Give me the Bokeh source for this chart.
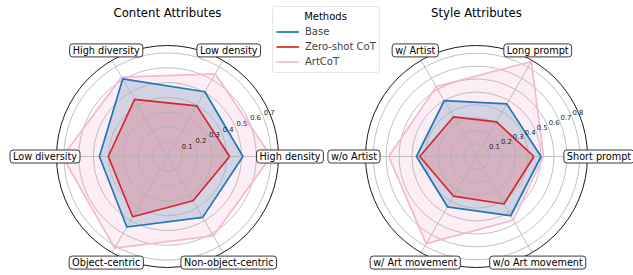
import numpy as np
from bokeh.plotting import figure
from bokeh.models import Range1d, Legend, LegendItem
from bokeh.models.glyphs import Text
from bokeh.core.properties import value
from bokeh.embed import file_html
from bokeh.resources import INLINE

# ---------------- data ----------------
methods = ["Base", "Zero-shot CoT", "ArtCoT"]
method_colors = ["#1f77b4", "#d62728", "#f7b6d2"]

content_categories = ["High density", "Low density", "High diversity",
                      "Low diversity", "Object-centric", "Non-object-centric"]
content_base = [0.51, 0.505, 0.605, 0.46, 0.55, 0.475]
content_zeroshot = [0.42, 0.395, 0.445, 0.40, 0.47, 0.345]
content_artcot = [0.70, 0.645, 0.62, 0.71, 0.715, 0.62]
content_ticks = [0.1, 0.2, 0.3, 0.4, 0.5, 0.6, 0.7]
content_rmax = 0.75

style_categories = ["Short prompt", "Long prompt", "w/ Artist",
                    "w/o Artist", "w/ Art movement", "w/o Art movement"]
style_base = [0.50, 0.47, 0.50, 0.465, 0.45, 0.53]
style_zeroshot = [0.445, 0.31, 0.355, 0.44, 0.355, 0.425]
style_artcot = [0.52, 0.85, 0.625, 0.68, 0.78, 0.57]
style_ticks = [0.1, 0.2, 0.3, 0.4, 0.5, 0.6, 0.7, 0.8]
style_rmax = 0.86

# ---------------- layout ----------------
W, H = 633, 275
R = 111.0          # outer radius in px
LABEL_R = 122.5    # category label radius in px
FONT = value("DejaVu Sans")

p = figure(width=W, height=H, output_backend="svg", toolbar_location=None,
           x_range=Range1d(0, W), y_range=Range1d(0, H),
           x_axis_type=None, y_axis_type=None, min_border=0)
p.grid.visible = False
p.outline_line_color = None
p.background_fill_color = "white"

has_box = "padding" in Text.properties()


def panel(cx, cy, rmax, cats, series, ticks, title):
    k = R / rmax
    n = len(cats)
    theta = np.arange(n) * 2 * np.pi / n
    # fills
    for vals, col in zip(series, method_colors):
        v = np.array(vals)
        p.patch(cx + v * k * np.cos(theta), cy + v * k * np.sin(theta),
                fill_color=col, fill_alpha=0.25, line_color=None)
    # grid
    for t in ticks:
        p.circle(x=[cx], y=[cy], radius=t * k, fill_color=None,
                 line_color="#b0b0b0", line_width=0.8)
    p.segment(x0=[cx] * n, y0=[cy] * n, x1=cx + R * np.cos(theta),
              y1=cy + R * np.sin(theta), line_color="#b0b0b0", line_width=0.8)
    p.circle(x=[cx], y=[cy], radius=R, fill_color=None,
             line_color="black", line_width=0.9)
    # lines
    rends = []
    for vals, col in zip(series, method_colors):
        v = np.array(list(vals) + [vals[0]])
        th = np.append(theta, theta[0])
        r = p.line(cx + v * k * np.cos(th), cy + v * k * np.sin(th),
                   line_color=col, line_width=1.7, line_join="round")
        rends.append(r)
    # radial tick labels at 22.5 deg
    a = np.deg2rad(22.5)
    tk = np.array(ticks)
    p.text(x=cx + tk * k * np.cos(a) + 6, y=cy + tk * k * np.sin(a) + 4.7,
           text=[f"{t:.1f}" for t in ticks], text_font=FONT,
           text_font_size="6.8px", text_align="center",
           text_baseline="middle", text_color="#222222")
    # category labels
    kw = {}
    if has_box:
        kw = dict(background_fill_color="white", border_line_color="#222222",
                  border_line_width=0.9, padding=(3, 1), border_radius=3)
    p.text(x=cx + LABEL_R * np.cos(theta), y=cy + LABEL_R * np.sin(theta),
           text=cats, text_font=FONT, text_font_size="9.7px",
           text_align="center", text_baseline="middle", text_color="black",
           **kw)
    # title
    p.text(x=[cx], y=[H - 12.5], text=[title], text_font=FONT,
           text_font_size="11.7px", text_align="center",
           text_baseline="middle", text_color="black")
    return rends


left = panel(167, 119, content_rmax, content_categories,
             [content_base, content_zeroshot, content_artcot],
             content_ticks, "Content Attributes")
panel(476, 119, style_rmax, style_categories,
      [style_base, style_zeroshot, style_artcot],
      style_ticks, "Style Attributes")

legend = Legend(items=[LegendItem(label=m, renderers=[r]) for m, r in zip(methods, left)],
                location=(272, 202), title=" ", title_text_font_size="10px",
                title_standoff=3, label_text_font="DejaVu Sans",
                label_text_font_size="10px", border_line_color="#cccccc",
                border_line_width=1, background_fill_alpha=0.0, padding=3,
                margin=0, spacing=0, glyph_width=23, glyph_height=15,
                label_height=15, label_standoff=6)
if "border_radius" in Legend.properties():
    legend.border_radius = 3
p.add_layout(legend)

p.text(x=[325], y=[H - 15.7], text=["Methods"], text_font=FONT,
       text_font_size="10px", text_align="center", text_baseline="middle",
       text_color="black")

open("out.html", "w").write(file_html(p, INLINE))
